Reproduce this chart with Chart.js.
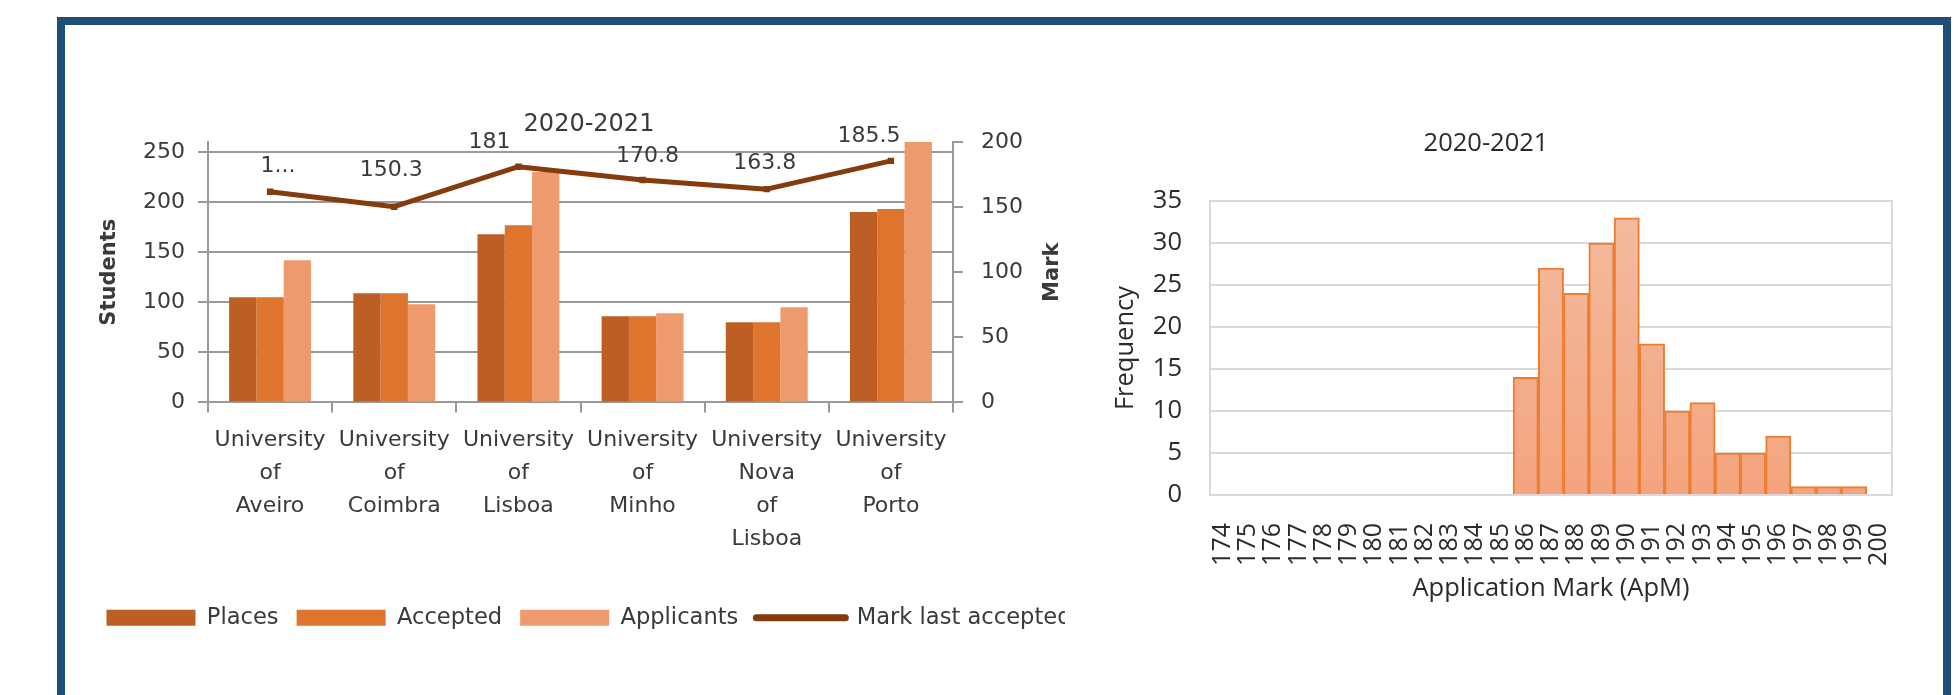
<!DOCTYPE html>
<html>
<head>
<meta charset="utf-8">
<script src="https://cdn.jsdelivr.net/npm/chart.js@4.4.1/dist/chart.umd.min.js"></script>
<style>
  html, body { margin: 0; padding: 0; background: #fff; }
  body { width: 1960px; height: 695px; position: relative; overflow: hidden; }
  #frame { position: absolute; left: 57px; top: 17px; width: 1878px; height: 720px;
           border: 8px solid #1F4E79; border-bottom: none; }
  #leftBox { position: absolute; left: 66px; top: 26px; width: 999px; height: 669px; overflow: hidden; }
  #leftBox canvas { position: absolute; left: 0; top: 0; }
  #rightBox { position: absolute; left: 1080px; top: 100px; width: 850px; height: 560px; }
</style>
</head>
<body>
<div id="frame"></div>
<div id="leftBox"><canvas id="unis" width="1046" height="640"></canvas></div>
<div id="rightBox"><canvas id="hist" width="850" height="560"></canvas></div>
<script>
// left chart: places / accepted / applicants per university, plus last accepted mark
const universities = [
  ["University", "of", "Aveiro"],
  ["University", "of", "Coimbra"],
  ["University", "of", "Lisboa"],
  ["University", "of", "Minho"],
  ["University", "Nova", "of", "Lisboa"],
  ["University", "of", "Porto"]
];
const places = [105, 109, 168, 86, 80, 190];
const accepted = [105, 109, 177, 86, 80, 193];
const applicants = [142, 98, 230, 89, 95, 262];
const markLastAccepted = [161.8, 150.3, 181, 170.8, 163.8, 185.5];
const markLabels = ["1...", "150.3", "181", "170.8", "163.8", "185.5"];

// right chart: histogram of application marks
const markBins = ["174", "175", "176", "177", "178", "179", "180", "181", "182", "183", "184", "185", "186",
  "187", "188", "189", "190", "191", "192", "193", "194", "195", "196", "197", "198", "199", "200"];
const frequency = [0, 0, 0, 0, 0, 0, 0, 0, 0, 0, 0, 0, 14, 27, 24, 30, 33, 18, 10, 11, 5, 5, 7, 1, 1, 1, 0];

const textColor = "#3a3a3a";
const gridGray = "#9a9a9a";
const brown = "#843C0C";
const dv = "DejaVu Sans";

Chart.defaults.font.family = dv;
Chart.defaults.color = textColor;
Chart.defaults.animation = false;

const markLabelPlugin = {
  id: "markLabels",
  afterDatasetsDraw(chart, args, opts) {
    const meta = chart.getDatasetMeta(3);
    const c = chart.ctx;
    c.save();
    c.font = "22px '" + dv + "'";
    c.fillStyle = textColor;
    c.textAlign = "center";
    c.textBaseline = "middle";
    meta.data.forEach((pt, i) => {
      const n = opts.nudge[i];
      c.fillText(markLabels[i], pt.x + n[0], pt.y + n[1]);
    });
    c.restore();
  },
  afterDraw(chart) {
    // secondary axis title, reading bottom to top like the primary one
    const s = chart.scales.y1;
    const c = chart.ctx;
    c.save();
    c.translate(s.left + 100, (chart.chartArea.top + chart.chartArea.bottom) / 2);
    c.rotate(-Math.PI / 2);
    c.font = "bold 21px '" + dv + "'";
    c.fillStyle = textColor;
    c.textAlign = "center";
    c.textBaseline = "middle";
    c.fillText("Mark", 0, 0);
    c.restore();
  }
};

new Chart(document.getElementById("unis"), {
  type: "bar",
  data: {
    labels: universities,
    datasets: [
      { label: "Places", data: places, backgroundColor: "#BD5F24", yAxisID: "y" },
      { label: "Accepted", data: accepted, backgroundColor: "#DE742D", yAxisID: "y" },
      { label: "Applicants", data: applicants, backgroundColor: "#EE996E", yAxisID: "y" },
      {
        type: "line", label: "Mark last accepted", data: markLastAccepted, yAxisID: "y1",
        borderColor: brown, backgroundColor: brown, borderWidth: 5,
        borderCapStyle: "round", borderJoinStyle: "round",
        pointStyle: "rect", pointRadius: 4.5, pointBackgroundColor: brown, pointBorderWidth: 0,
        order: -1
      }
    ]
  },
  options: {
    responsive: false,
    categoryPercentage: 0.66,
    barPercentage: 1,
    layout: { padding: { top: 0, left: 0, right: 0, bottom: 27 } },
    plugins: {
      title: {
        display: true, text: "2020-2021", color: textColor,
        font: { family: dv, size: 24, weight: "normal" },
        padding: { top: 84, bottom: 3.2 }
      },
      legend: {
        position: "bottom",
        labels: {
          usePointStyle: true, pointStyleWidth: 89, boxHeight: 16, padding: 18,
          color: textColor, font: { family: dv, size: 22.6 },
          sort: (a, b) => a.datasetIndex - b.datasetIndex,
          generateLabels(chart) {
            const items = Chart.defaults.plugins.legend.labels.generateLabels(chart);
            items.forEach(it => {
              if (it.datasetIndex === 3) {
                it.pointStyle = "line"; it.lineWidth = 7; it.strokeStyle = brown; it.lineCap = "round";
              } else {
                it.pointStyle = "rect"; it.lineWidth = 0;
              }
            });
            return items;
          }
        }
      },
      tooltip: { enabled: false },
      markLabels: { nudge: [[8, -25], [-3, -36], [-29, -24], [5, -24], [-2, -26], [-22, -25]] }
    },
    scales: {
      x: {
        offset: true,
        grid: { drawOnChartArea: false, drawTicks: true, tickLength: 10, color: gridGray, lineWidth: 2, offset: true },
        border: { color: gridGray, width: 2 },
        ticks: { color: textColor, font: { family: dv, size: 22, lineHeight: 1.5 }, padding: 11, maxRotation: 0, autoSkip: false },
        afterFit(scale) { scale.height = 186; }
      },
      y: {
        position: "left", min: 0, max: 260,
        ticks: { stepSize: 50, includeBounds: false, color: textColor, font: { family: dv, size: 22 }, padding: 13 },
        grid: { color: gridGray, lineWidth: 2, tickLength: 10 },
        border: { color: gridGray, width: 2 },
        title: {
          display: true, text: "Students", color: textColor,
          font: { family: dv, size: 21, weight: "bold" }, padding: { top: 31, bottom: 0 }
        },
        afterFit(scale) { scale.width = 142; }
      },
      y1: {
        position: "right", min: 0, max: 200,
        ticks: { stepSize: 50, color: textColor, font: { family: dv, size: 22 }, padding: 18 },
        grid: { drawOnChartArea: false, tickLength: 10, color: gridGray, lineWidth: 2 },
        border: { color: gridGray, width: 2 },
        afterFit(scale) { scale.width = 159; }
      }
    }
  },
  plugins: [markLabelPlugin]
});

const plotFrame = {
  id: "plotFrame",
  beforeDatasetsDraw(chart) {
    const a = chart.chartArea;
    const c = chart.ctx;
    c.save();
    c.strokeStyle = "#D9D9D9";
    c.lineWidth = 2;
    c.strokeRect(a.left, a.top, a.right - a.left, a.bottom - a.top);
    c.restore();
  }
};

const os = "Open Sans";
new Chart(document.getElementById("hist"), {
  type: "bar",
  data: {
    labels: markBins,
    datasets: [{
      label: "Frequency",
      data: frequency,
      borderColor: "#ED7D31",
      borderWidth: 2,
      backgroundColor(ctx) {
        const area = ctx.chart.chartArea;
        if (!area) return "#F3B08D";
        const g = ctx.chart.ctx.createLinearGradient(0, area.top, 0, area.bottom);
        g.addColorStop(0, "#F2BCA1");
        g.addColorStop(1, "#F4A47E");
        return g;
      },
      categoryPercentage: 1,
      barPercentage: 1
    }]
  },
  options: {
    responsive: false,
    layout: { padding: { top: 0, left: 0, right: 38, bottom: 0 } },
    plugins: {
      legend: { display: false },
      tooltip: { enabled: false },
      title: {
        display: true, text: "2020-2021", color: "#2a2a2a",
        font: { family: os, size: 25.5, weight: "normal" },
        padding: { top: 28.7, bottom: 41.7 }
      }
    },
    scales: {
      x: {
        grid: { display: false },
        border: { display: false },
        ticks: { color: "#2a2a2a", font: { family: os, size: 25 }, minRotation: 90, maxRotation: 90, autoSkip: false, padding: 20 },
        title: {
          display: true, text: "Application Mark (ApM)", color: "#2a2a2a",
          font: { family: os, size: 25.5 }, padding: { top: 0, bottom: 55.7 }
        },
        afterFit(scale) { scale.height = 165; }
      },
      y: {
        min: 0, max: 35,
        ticks: { stepSize: 5, color: "#2a2a2a", font: { family: os, size: 25.5 }, padding: 28 },
        grid: { color: "#D9D9D9", lineWidth: 2, drawTicks: false },
        border: { display: false },
        title: {
          display: true, text: "Frequency", color: "#2a2a2a",
          font: { family: os, size: 25.5 }, padding: { top: 30.7, bottom: 0 }
        },
        afterFit(scale) { scale.width = 130; }
      }
    }
  },
  plugins: [plotFrame]
});
</script>
</body>
</html>
